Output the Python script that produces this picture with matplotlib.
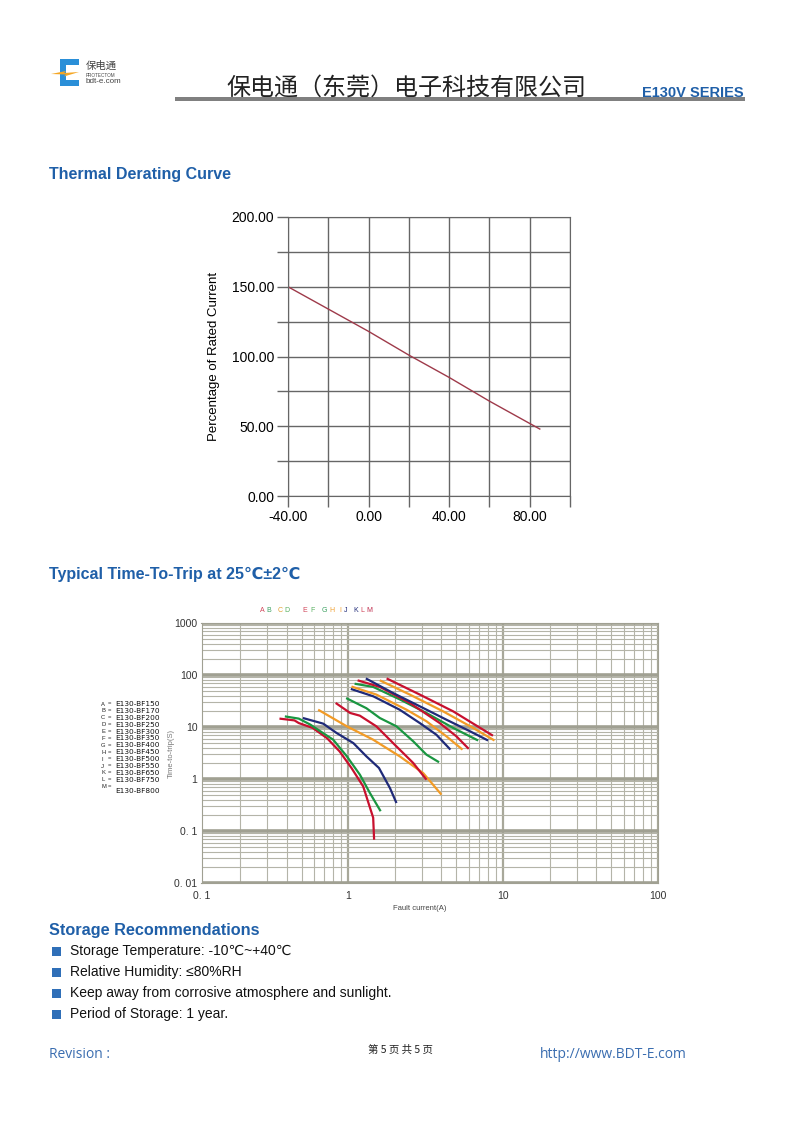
import matplotlib
matplotlib.use("Agg")
import matplotlib.pyplot as plt
from matplotlib.patches import Rectangle, Polygon
from matplotlib.ticker import LogLocator, NullFormatter, FixedLocator

plt.rcParams['font.family'] = ['Liberation Sans', 'DejaVu Sans', 'Noto Sans CJK SC']

# thermal derating curve
temps = [-40, -20, 0, 20, 40, 60, 85]
rated_pct = [150, 134, 118, 101, 85, 68, 48]
thermal_xticks = [-40, -20, 0, 20, 40, 60, 80, 100]
thermal_xlabels = ['-40.00', '', '0.00', '', '40.00', '', '80.00', '']
thermal_yticks = [0, 25, 50, 75, 100, 125, 150, 175, 200]
thermal_ylabels = ['0.00', '', '50.00', '', '100.00', '', '150.00', '', '200.00']

# time-to-trip curves (fault current A, time s)
a_cur = [0.36, 0.45, 0.48, 0.59, 0.73, 0.88, 1.05, 1.25, 1.45, 1.47]
a_t = [14.5, 13.4, 11.9, 9.6, 6.1, 3.4, 1.63, 0.72, 0.18, 0.068]
b_cur = [0.39, 0.48, 0.57, 0.66, 0.80, 0.98, 1.19, 1.38, 1.62]
b_t = [16.0, 14.5, 11.1, 8.3, 5.7, 2.73, 1.21, 0.54, 0.24]
c_cur = [0.51, 0.69, 0.84, 1.08, 1.31, 1.58, 1.86, 2.05]
c_t = [14.9, 11.6, 7.7, 4.9, 2.73, 1.63, 0.67, 0.345]
d_cur = [0.64, 0.98, 1.45, 2.15, 3.05, 4.0]
d_t = [21.5, 10.3, 5.7, 2.73, 1.30, 0.50]
e_cur = [0.83, 1.03, 1.19, 1.52, 1.95, 2.63, 3.2]
e_t = [29, 18.6, 16.5, 10.3, 4.9, 2.03, 0.97]
f_cur = [0.97, 1.31, 1.60, 2.05, 2.63, 3.2, 3.86]
f_t = [36, 23, 14.9, 10.3, 5.3, 2.94, 2.1]
g_cur = [1.04, 1.45, 2.15, 2.90, 3.71, 4.57]
g_t = [54, 39, 21.5, 11.9, 7.1, 3.67]
h_cur = [1.05, 1.52, 2.38, 3.2, 4.31, 5.47]
h_t = [60, 42, 21.5, 12.9, 6.6, 3.67]
i_cur = [1.10, 1.45, 2.15, 3.2, 4.76, 6.9]
i_t = [68, 59, 34, 18.6, 9.6, 5.5]
j_cur = [1.15, 1.60, 2.5, 3.9, 5.0, 6.0]
j_t = [79, 59, 29, 11.9, 6.6, 3.8]
k_cur = [1.30, 1.95, 2.90, 4.31, 6.1, 8.0]
k_t = [86, 45, 25, 13.8, 8.3, 5.5]
l_cur = [1.60, 2.5, 4.10, 6.4, 8.8]
l_t = [79, 42, 20, 9.6, 5.5]
m_cur = [1.77, 2.90, 4.76, 8.6]
m_t = [86, 42, 20, 6.8]

letters = ['A', 'B', 'C', 'D', 'E', 'F', 'G', 'H', 'I', 'J', 'K', 'L', 'M']
part_names = ['E130-BF150', 'E130-BF170', 'E130-BF200', 'E130-BF250', 'E130-BF300',
              'E130-BF350', 'E130-BF400', 'E130-BF450', 'E130-BF500', 'E130-BF550',
              'E130-BF650', 'E130-BF750', 'E130-BF800']
trip_yticks = [0.01, 0.1, 1, 10, 100, 1000]
trip_ylabels = ['0. 01', '0. 1', '1', '10', '100', '1000']
trip_xticks = [0.113, 1, 10, 100]
trip_xlabels = ['0. 1', '1', '10', '100']

bullets = ['Storage Temperature: -10℃~+40℃', 'Relative Humidity: ≤80%RH',
           'Keep away from corrosive atmosphere and sunlight.', 'Period of Storage: 1 year.']

RED = '#c8102e'
GREEN = '#1a9641'
NAVY = '#1f2a78'
ORANGE = '#f29b26'
BLUE = '#1f5fa8'

fig = plt.figure(figsize=(8, 11.32), dpi=100)
page = fig.add_axes([0, 0, 1, 1])
page.set_xlim(0, 800)
page.set_ylim(1132, 0)
page.axis('off')

# logo
page.add_patch(Polygon([(60, 59), (79, 59), (79, 65), (66, 65), (66, 80), (79, 80), (79, 86), (60, 86)],
                       closed=True, color='#2a8fd8', lw=0))
page.add_patch(Polygon([(51, 74), (66, 71), (64, 73), (79, 72), (64, 76.5), (66, 74.5)],
                       closed=True, color='#f5a623', lw=0))
page.text(86, 66, '保电通', fontsize=7.5, color='#444', va='center', family=['Noto Sans CJK SC'])
page.text(86, 75.5, 'PROTECTOM', fontsize=3.3, color='#444', va='center')
page.text(86, 81.5, 'bdt-e.com', fontsize=5.8, color='#444', va='center')

# header
page.text(406, 89, '保电通（东莞）电子科技有限公司', fontsize=17.3, color='#222', ha='center',
          va='center', family=['Noto Sans CJK SC'])
page.add_patch(Rectangle((175, 97), 570, 4, color='#808080', lw=0))
page.text(642, 93, 'E130V SERIES', fontsize=10.5, color=BLUE, weight='bold', va='center')

page.text(49, 175, 'Thermal Derating Curve', fontsize=11.5, color=BLUE, weight='bold', va='center')
page.text(49, 574, 'Typical Time-To-Trip at 25℃±2℃', fontsize=11.5, color=BLUE, weight='bold',
          va='center', family=['Liberation Sans', 'DejaVu Sans'])
page.text(49, 930, 'Storage Recommendations', fontsize=11.7, color=BLUE, weight='bold', va='center')

for n, line in enumerate(bullets):
    y = 951 + n * 21
    page.add_patch(Rectangle((52, y - 4.5), 9, 9, color='#2f6fb8', lw=0))
    page.text(70, y, line, fontsize=10, color='#111', va='center',
              family=['Liberation Sans', 'DejaVu Sans'])

page.text(49, 1054, 'Revision :', fontsize=10, color='#3a6db0', va='center', family=['Open Sans'])
page.text(400, 1050, '第 5 页 共 5 页', fontsize=7.5, color='#222', ha='center', va='center',
          family=['Noto Sans CJK SC'])
page.text(540, 1054, 'http://www.BDT-E.com', fontsize=10, color='#3a6db0', va='center',
          family=['Open Sans'])

# thermal derating chart
ax1 = fig.add_axes([288 / 800, 1 - 496 / 1132, 282 / 800, 279 / 1132])
ax1.plot(temps, rated_pct, color='#9e3a4a', lw=1)
ax1.set_xlim(-40, 100)
ax1.set_ylim(0, 200)
ax1.set_xticks(thermal_xticks, thermal_xlabels)
ax1.set_yticks(thermal_yticks, thermal_ylabels)
ax1.grid(True, color='#666', lw=1)
ax1.tick_params(length=8, width=1, color='#666', labelsize=10, pad=2)
for s in ax1.spines.values():
    s.set_color('#666')
ax1.set_ylabel('Percentage of Rated Current', fontsize=9.5, labelpad=8)
ax1.set_axisbelow(True)

# time-to-trip chart
ax2 = fig.add_axes([201.5 / 800, 1 - 883 / 1132, 456.5 / 800, 260 / 1132])
ax2.set_xscale('log')
ax2.set_yscale('log')
curves = [(a_cur, a_t, RED), (b_cur, b_t, GREEN), (c_cur, c_t, NAVY), (d_cur, d_t, ORANGE),
          (e_cur, e_t, RED), (f_cur, f_t, GREEN), (g_cur, g_t, NAVY), (h_cur, h_t, ORANGE),
          (i_cur, i_t, GREEN), (j_cur, j_t, RED), (k_cur, k_t, NAVY), (l_cur, l_t, ORANGE),
          (m_cur, m_t, RED)]
for cx, cy, col in curves:
    ax2.plot(cx, cy, color=col, lw=1.6, solid_capstyle='butt')
ax2.set_xlim(0.113, 100)
ax2.set_ylim(0.01, 1000)
ax2.xaxis.set_major_locator(FixedLocator(trip_xticks))
ax2.set_xticklabels(trip_xlabels)
ax2.yaxis.set_major_locator(FixedLocator(trip_yticks))
ax2.set_yticklabels(trip_ylabels)
ax2.xaxis.set_minor_locator(LogLocator(base=10, subs=range(2, 10)))
ax2.yaxis.set_minor_locator(LogLocator(base=10, subs=range(2, 10)))
ax2.xaxis.set_minor_formatter(NullFormatter())
ax2.yaxis.set_minor_formatter(NullFormatter())
ax2.grid(which='minor', color='#b4b4a8', lw=0.8)
ax2.grid(which='major', axis='y', color='#a0a092', lw=2.6)
ax2.grid(which='major', axis='x', color='#a8a89a', lw=1.6)
ax2.tick_params(which='both', length=0, labelsize=7.5, labelcolor='#333', pad=6)
ax2.tick_params(axis='y', pad=3)
for s in ax2.spines.values():
    s.set_color('#a0a092')
ax2.set_axisbelow(True)

page.text(420, 908, 'Fault current(A)', fontsize=5.5, color='#444', ha='center', va='center')
page.text(171, 753, 'Time-to-trip(S)', fontsize=5.5, color='#777', ha='center', va='center',
          rotation=90)

letter_x = [262, 269, 280, 287, 305, 313, 324, 332, 340, 346, 356, 362, 369]
letter_col = ['#d04458', '#3aa060', '#e0a030', '#58b060', '#d04458', '#58b060', '#3aa060',
              '#f0a030', '#f0a030', NAVY, NAVY, '#d04458', '#c03050']
for lx, lt, lc in zip(letter_x, letters, letter_col):
    page.text(lx, 610, lt, fontsize=5, color=lc, ha='center', va='center')

for n, (lt, nm) in enumerate(zip(letters, part_names)):
    y = 704 + n * 6.9
    page.text(101, y, lt, fontsize=4.2, color='#222', va='center')
    page.text(108, y, '=', fontsize=4.2, color='#222', va='center')
    page.text(115, y + (4 if lt == 'M' else 0), nm, fontsize=5.3, color='#111', va='center',
              family=['DejaVu Sans'])

fig.savefig('out.png', dpi=100)
